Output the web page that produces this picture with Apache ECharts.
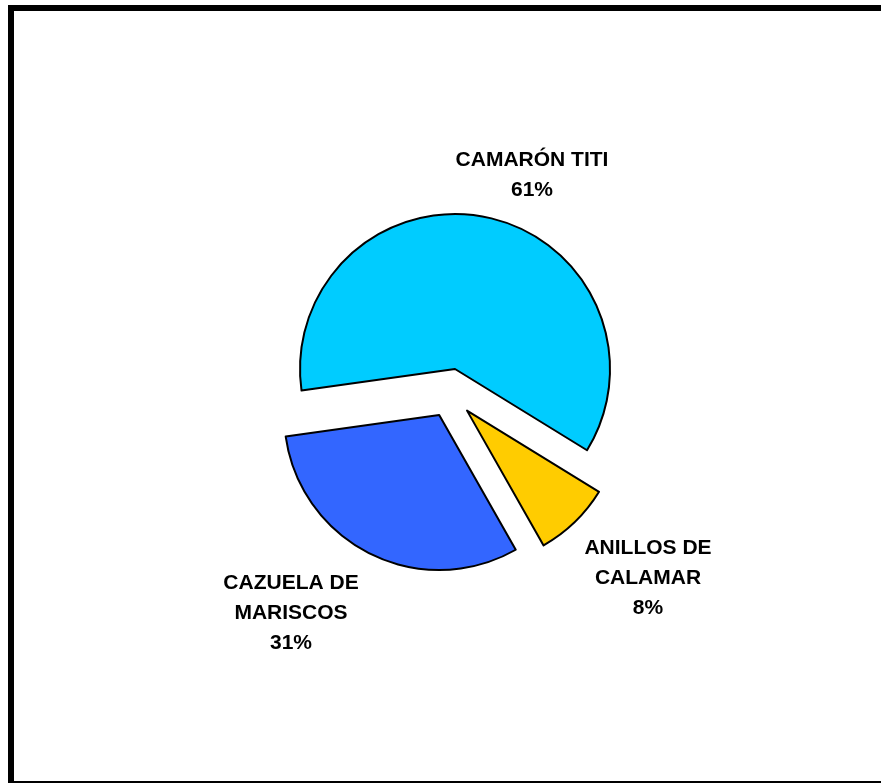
<!DOCTYPE html>
<html><head><meta charset="utf-8">
<script src="https://cdn.jsdelivr.net/npm/echarts@6/dist/echarts.min.js"></script>
<style>html,body{margin:0;padding:0;background:#fff}#c{width:881px;height:783px}</style>
</head><body><div id="c"></div>
<script>
const categories = ['CAMARÓN TITI', 'ANILLOS DE\nCALAMAR', 'CAZUELA DE\nMARISCOS'];
const values = [61, 8, 31];
const colors = ['#00CCFF', '#FFCC00', '#3366FF'];
const labelPos = [[532, 175], [648, 578], [291, 613]];

const labelFont = 'bold 21px "Liberation Sans", Arial, sans-serif';

const chart = echarts.init(document.getElementById('c'), null, {renderer: 'canvas'});
chart.setOption({
  animation: false,
  backgroundColor: '#ffffff',
  graphic: [{
    type: 'rect',
    shape: {x: 11, y: 8, width: 900, height: 776},
    style: {fill: 'none', stroke: '#000', lineWidth: 6},
    silent: true
  }].concat(categories.map((name, i) => ({
    type: 'text',
    x: labelPos[i][0],
    y: labelPos[i][1],
    silent: true,
    style: {
      text: name + '\n' + values[i] + '%',
      font: labelFont,
      lineHeight: 30,
      fill: '#000',
      align: 'center',
      verticalAlign: 'middle'
    }
  }))),
  series: [{
    type: 'pie',
    center: [450, 393],
    radius: [0, 155],
    startAngle: 188,
    clockwise: true,
    selectedMode: 'multiple',
    selectedOffset: 24.5,
    silent: true,
    emphasis: {disabled: true},
    itemStyle: {borderColor: '#000', borderWidth: 2},
    select: {itemStyle: {borderColor: '#000', borderWidth: 2}},
    label: {show: false},
    labelLine: {show: false},
    data: categories.map((name, i) => ({
      name: name,
      value: values[i],
      selected: true,
      itemStyle: {color: colors[i]},
      select: {itemStyle: {color: colors[i]}}
    }))
  }]
});
</script>
</body></html>
